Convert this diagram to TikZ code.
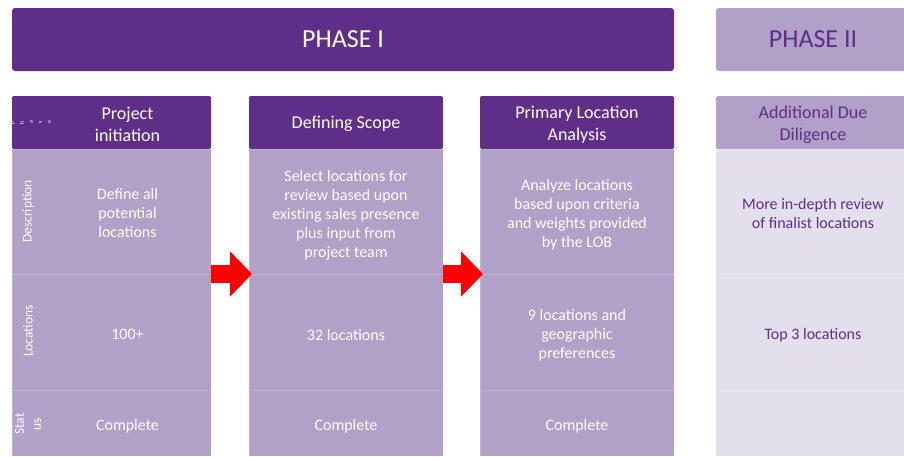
\documentclass[tikz,border=0pt]{standalone}
\usepackage{fontspec}
\setmainfont{Carlito}
\usepackage{xcolor}
\usetikzlibrary{positioning,arrows.meta}

\definecolor{plum}{HTML}{5F2E88}
\definecolor{lilac}{HTML}{B1A0C7}
\definecolor{mist}{HTML}{E4DFEC}
\newcommand{\lift}[1]{\rule{0pt}{#1}}

\begin{document}
\begin{tikzpicture}[x=1pt, y=-1pt, >=Stealth,
  every node/.style={align=center, inner sep=0pt, outer sep=0pt},
  banner/.style={rounded corners=3pt, minimum width=662pt, minimum height=63pt,
                 font=\fontsize{26}{30}\selectfont},
  hdr/.style={fill=plum, text=white, rounded corners=2pt, minimum height=53pt,
              font=\fontsize{18}{22}\selectfont,
              execute at begin node={\rule{0pt}{16pt}}},
  cell/.style={fill=lilac, draw=white, draw opacity=0.2, line width=0.5pt,
               text=white, font=\fontsize{16}{19}\selectfont,
               execute at begin node={\rule{0pt}{17pt}}},
  rowlbl/.style={rotate=90, text=white, font=\fontsize{13.5}{17}\selectfont},
  flow/.style={draw=red, line width=18pt, -{Triangle[width=44pt,length=22pt]},
               shorten >=-3pt}]
  \useasboundingbox (0,0) rectangle (904,456);
  \def\cw{194pt}

  % phases
  \node[banner, fill=plum, text=white] (ph1) at (343,39.5) {PHASE I};
  \node[banner, fill=lilac, text=plum, minimum width=\cw] (ph2) at (813,39.5) {PHASE II};

  % column 1 with row labels
  \node[hdr, minimum width=199pt] (h1) at (111.5,122.5) {};
  \node[text=white, font=\fontsize{18}{22}\selectfont] (h1t) at (127.5,124) {Project\\initiation};
  \node[rotate=90, text=white, font=\fontsize{6}{9}\selectfont] (h1l) at (31,122.5) {P\\h\\a\\s\\e};
  \node[cell, minimum width=199pt, minimum height=125pt] (d1) at (111.5,211.5) {};
  \node[cell, minimum width=199pt, minimum height=116pt] (l1) at (111.5,332) {};
  \node[cell, minimum width=199pt, minimum height=66pt] (s1) at (111.5,423) {};
  \node[rowlbl] (d1l) at (28,211.5) {Description};
  \node[rowlbl] (l1l) at (28,331) {Locations};
  \node[rowlbl] (s1l) at (28,424) {Stat\\us};
  \node[cell, draw=none, fill=none] (d1t) at (127.5,213) {Define all\\potential\\locations};
  \node[cell, draw=none, fill=none] (l1t) at (127.5,331) {100+};
  \node[cell, draw=none, fill=none] (s1t) at (127.5,423) {Complete};

  % column 2
  \node[hdr, minimum width=\cw] (h2) at (346,122.5) {Defining Scope};
  \node[cell, minimum width=\cw, minimum height=125pt] (d2) at (346,211.5)
      {\lift{19pt}Select locations for\\review based upon\\existing sales presence\\plus input from\\project team};
  \node[cell, minimum width=\cw, minimum height=116pt] (l2) at (346,332) {32 locations};
  \node[cell, minimum width=\cw, minimum height=66pt] (s2) at (346,423) {Complete};

  % column 3
  \node[hdr, minimum width=\cw] (h3) at (577,122.5) {\lift{17pt}Primary Location\\Analysis};
  \node[cell, minimum width=\cw, minimum height=125pt] (d3) at (577,211.5)
      {\lift{18pt}Analyze locations\\based upon criteria\\and weights provided\\by the LOB};
  \node[cell, minimum width=\cw, minimum height=116pt] (l3) at (577,332)
      {\lift{18pt}9 locations and\\geographic\\preferences};
  \node[cell, minimum width=\cw, minimum height=66pt] (s3) at (577,423) {Complete};

  % column 4
  \node[hdr, fill=lilac, text=plum, minimum width=\cw] (h4) at (813,122.5) {\lift{17pt}Additional Due\\Diligence};
  \node[cell, fill=mist, text=plum, minimum width=\cw, minimum height=125pt] (d4) at (813,211.5)
      {\lift{16pt}More in-depth review\\of finalist locations};
  \node[cell, fill=mist, text=plum, minimum width=\cw, minimum height=116pt] (l4) at (813,332) {Top 3 locations};
  \node[cell, fill=mist, text=plum, minimum width=\cw, minimum height=66pt] (s4) at (813,423) {};

  \draw[flow] (d1.south east) -- (d2.south west);
  \draw[flow] (d2.south east) -- (d3.south west);
\end{tikzpicture}
\end{document}
